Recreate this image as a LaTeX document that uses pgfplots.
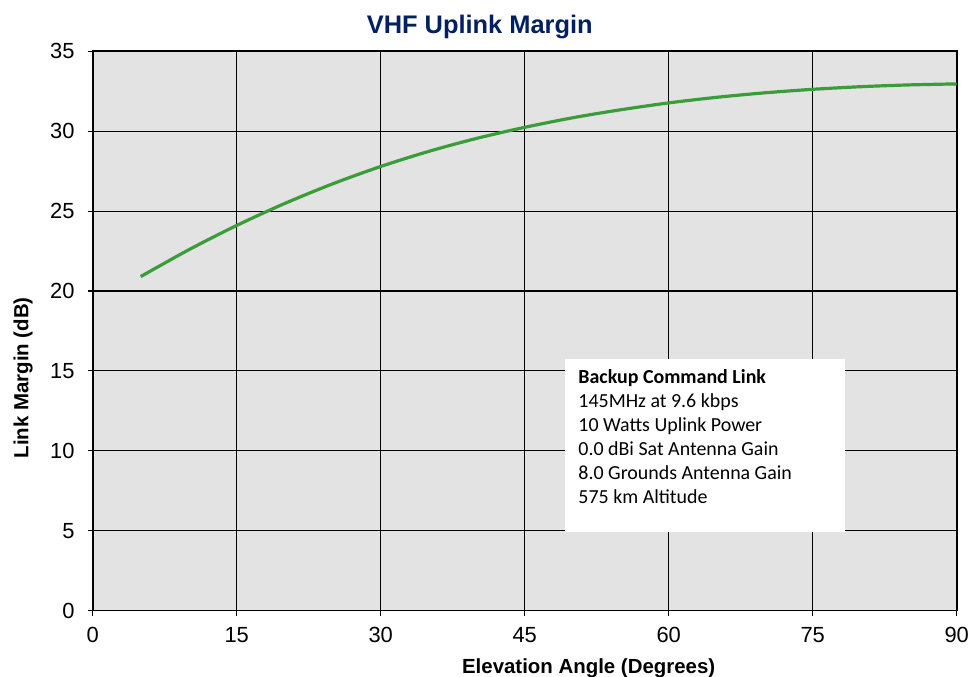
\documentclass[border=0pt]{standalone}
\usepackage{pgfplots}
\pgfplotsset{compat=1.18}
\usepackage{fontspec}
\setmainfont{Liberation Sans}
\newfontfamily\boxfont{Carlito}
\definecolor{bggray}{RGB}{227,227,227}
\definecolor{curvegreen}{RGB}{58,157,58}
\definecolor{titleblue}{RGB}{0,32,96}
\begin{document}
\begin{tikzpicture}
\begin{axis}[
  scale only axis,
  width=864bp, height=559.2bp,
  xmin=0, xmax=90, ymin=0, ymax=35,
  xtick={0,15,...,90}, ytick={0,5,...,35},
  grid=major,
  major grid style={black, line width=1.1bp},
  axis line style={black, line width=1.8bp},
  axis background/.style={fill=bggray},
  tick align=outside, major tick length=5bp,
  tick style={black, line width=1.1bp},
  xtick pos=bottom, ytick pos=left,
  /pgf/number format/assume math mode=true,
  tick label style={font=\fontsize{22}{25}\selectfont},
  yticklabel style={anchor=east, inner xsep=13bp},
  xticklabel style={yshift=-8bp},
  title={\bfseries VHF Uplink Margin},
  title style={font=\fontsize{25.5}{29}\selectfont, text=titleblue, at={(axis description cs:0.448,1)}, anchor=base, yshift=11.5bp},
  xlabel={\bfseries Elevation Angle (Degrees)},
  ylabel={\bfseries Link Margin (dB)},
  label style={font=\fontsize{20.5}{24}\selectfont},
  xlabel style={at={(axis description cs:0.574,0)}, anchor=base, yshift=-62.5bp},
  ylabel style={at={(axis description cs:0,0.416)}, anchor=base, yshift=64.4bp},
]
\addplot[curvegreen, line width=3.2bp, smooth] coordinates {
(5,20.9) (10,22.575) (15,24.10) (20,25.475) (25,26.705) (30,27.79) (35,28.735) (40,29.55) (45,30.24) (50,30.84) (55,31.34) (60,31.77) (65,32.12) (70,32.40) (75,32.62) (80,32.785) (85,32.895) (90,32.96)
};
\fill[white] (axis cs:49.2,4.93) rectangle (axis cs:78.37,15.75);
\node[anchor=north west, align=left, inner sep=0pt, font=\boxfont\fontsize{20}{24.2}\selectfont] at (axis cs:50.58,15.12)
{\bfseries Backup Command Link\\145MHz at 9.6 kbps\\10 Watts Uplink Power\\0.0 dBi Sat Antenna Gain\\8.0 Grounds Antenna Gain\\575 km Altitude};
\end{axis}
\pgfresetboundingbox
\path[use as bounding box] (-92.7bp,-66.5bp) rectangle (876.3bp,610.5bp);
\end{tikzpicture}
\end{document}
